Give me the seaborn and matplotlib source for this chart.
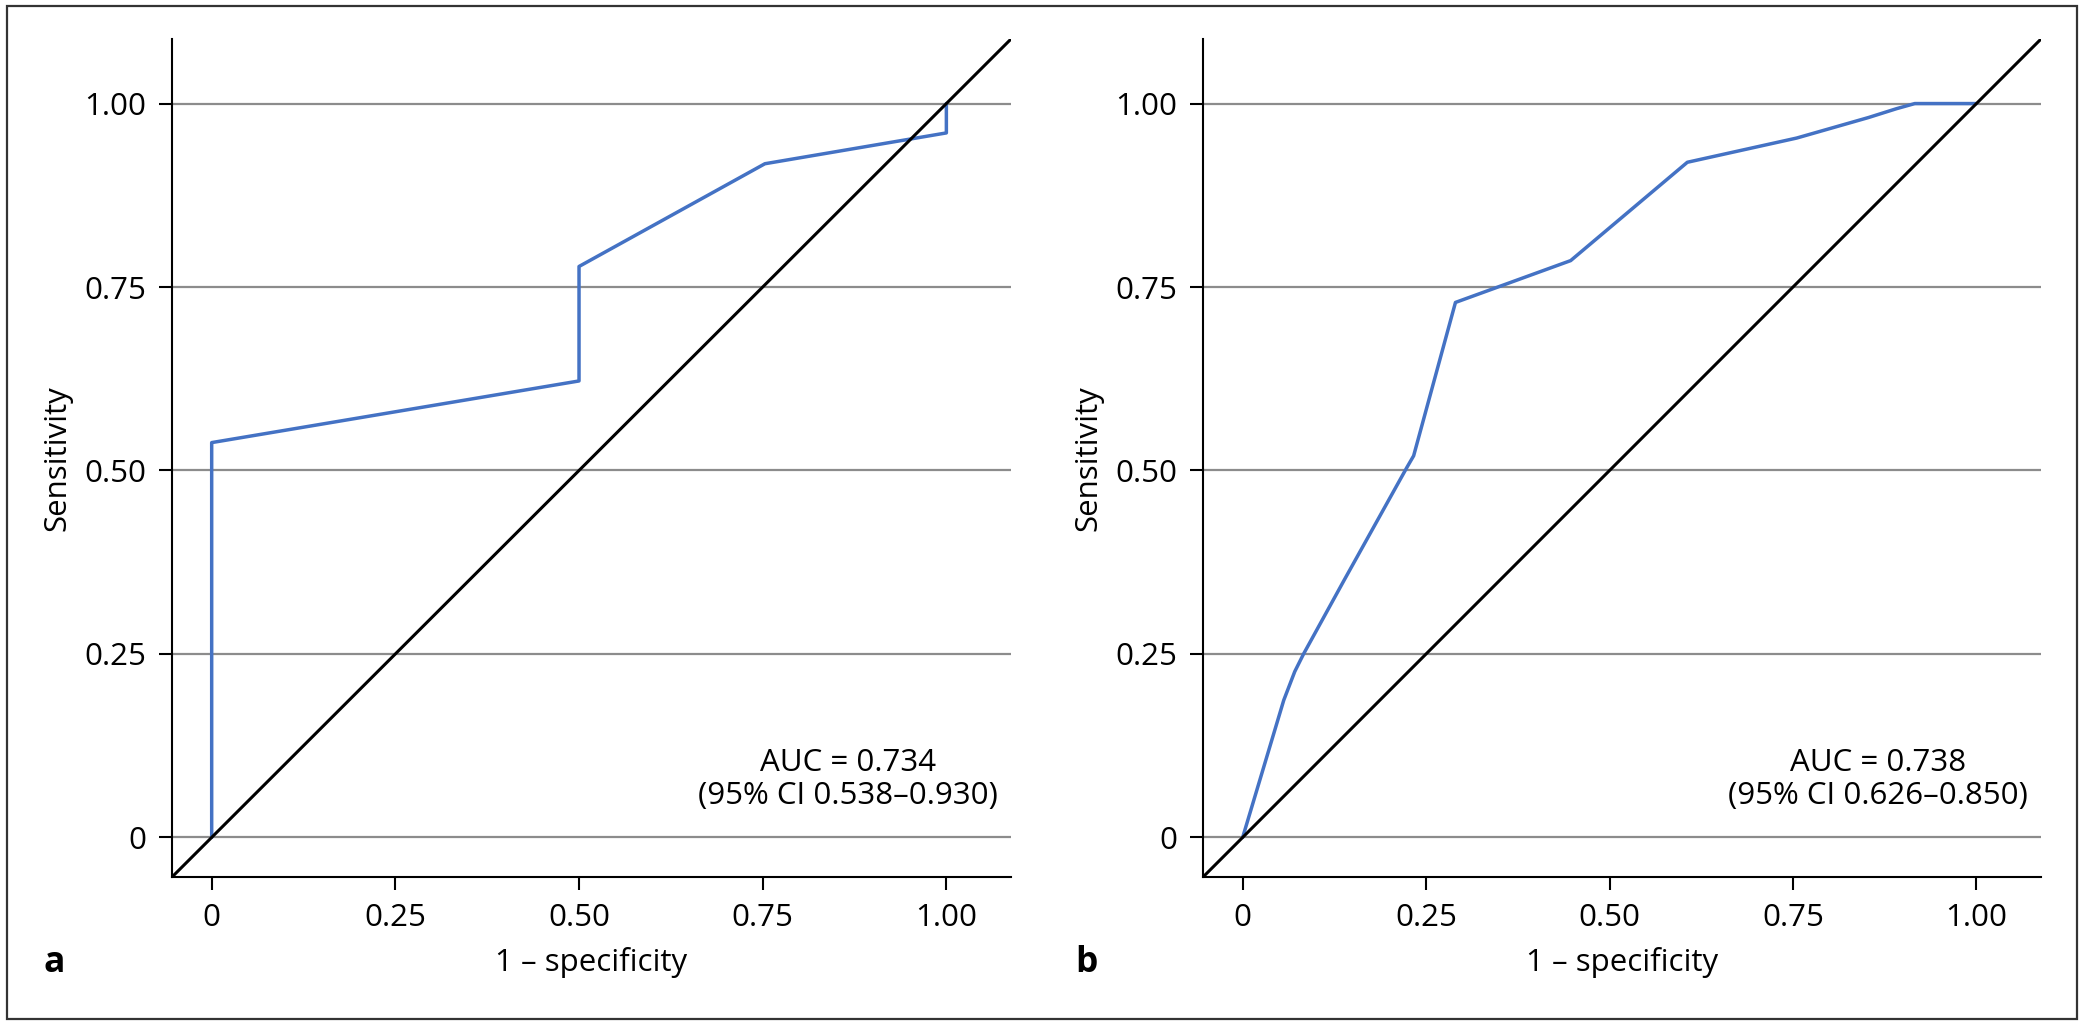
import matplotlib
matplotlib.use("Agg")
import matplotlib.pyplot as plt
import pandas as pd
import seaborn as sns
from matplotlib.patches import Rectangle

# panel a: empirical (stepped) ROC curve
fpr_a = [0, 0, 0.5, 0.5, 0.753, 1.0, 1.0]
tpr_a = [0, 0.538, 0.622, 0.778, 0.918, 0.960, 1.0]

# panel b: smoothed ROC curve
fpr_b = [0, 0.056, 0.071, 0.083, 0.138, 0.224, 0.233, 0.290, 0.447, 0.606, 0.755, 0.853, 0.891, 0.916, 1.0]
tpr_b = [0, 0.187, 0.226, 0.250, 0.350, 0.5045, 0.520, 0.729, 0.786, 0.920, 0.953, 0.981, 0.993, 1.0, 1.0]

auc_text = ["AUC = 0.734\n(95% CI 0.538–0.930)", "AUC = 0.738\n(95% CI 0.626–0.850)"]
panel_letters = ["a", "b"]
ticks = [0, 0.25, 0.5, 0.75, 1.0]
tick_labels = ["0", "0.25", "0.50", "0.75", "1.00"]

sns.set_theme(style="ticks")
plt.rcParams["font.family"] = ["Open Sans", "DejaVu Sans"]

FS = 22.5
BLUE = "#4472c4"
lo, hi = -0.054, 1.088

fig = plt.figure(figsize=(20.85, 10.26), dpi=100)
positions = [[0.0825, 0.1452, 0.4024, 0.8168], [0.5770, 0.1452, 0.4019, 0.8168]]
curves = [(fpr_a, tpr_a), (fpr_b, tpr_b)]

for pos, (fpr, tpr), note, letter in zip(positions, curves, auc_text, panel_letters):
    ax = fig.add_axes(pos)
    df = pd.DataFrame({"fpr": fpr, "tpr": tpr})
    sns.lineplot(data=df, x="fpr", y="tpr", sort=False, estimator=None,
                 color=BLUE, lw=2.5, ax=ax, zorder=3)
    ax.axline((0, 0), (1, 1), color="black", lw=2.2, zorder=4)

    ax.set_xlim(lo, hi)
    ax.set_ylim(lo, hi)
    ax.set_xticks(ticks, tick_labels)
    ax.set_yticks(ticks, tick_labels)
    ax.grid(axis="y", color="#8c8c8c", lw=1.6, zorder=1)
    ax.set_axisbelow(True)

    sns.despine(ax=ax)
    for side in ["left", "bottom"]:
        ax.spines[side].set_color("black")
        ax.spines[side].set_linewidth(1.5)
    ax.tick_params(axis="both", length=9.5, width=1.5, color="black",
                   labelsize=FS, labelcolor="black", pad=9)

    ax.set_xlabel("1 – specificity", fontsize=FS, color="black")
    ax.set_ylabel("Sensitivity", fontsize=FS, color="black")
    ax.xaxis.set_label_coords(0.5, -0.083)
    ax.yaxis.set_label_coords(-0.119, 0.5)

    ax.text(0.866, 0.079, note, ha="center", va="center", fontsize=FS,
            color="black", linespacing=1.15)
    ax.text(-0.153, -0.103, letter, transform=ax.transAxes, fontsize=FS + 3,
            fontweight="bold", color="black", ha="left", va="center")

fig.patches.append(Rectangle((0.0035, 0.0068), 0.9925, 0.9874, transform=fig.transFigure,
                             fill=False, edgecolor="#333333", lw=1.6))

fig.savefig("out.png", dpi=100, facecolor="white")
